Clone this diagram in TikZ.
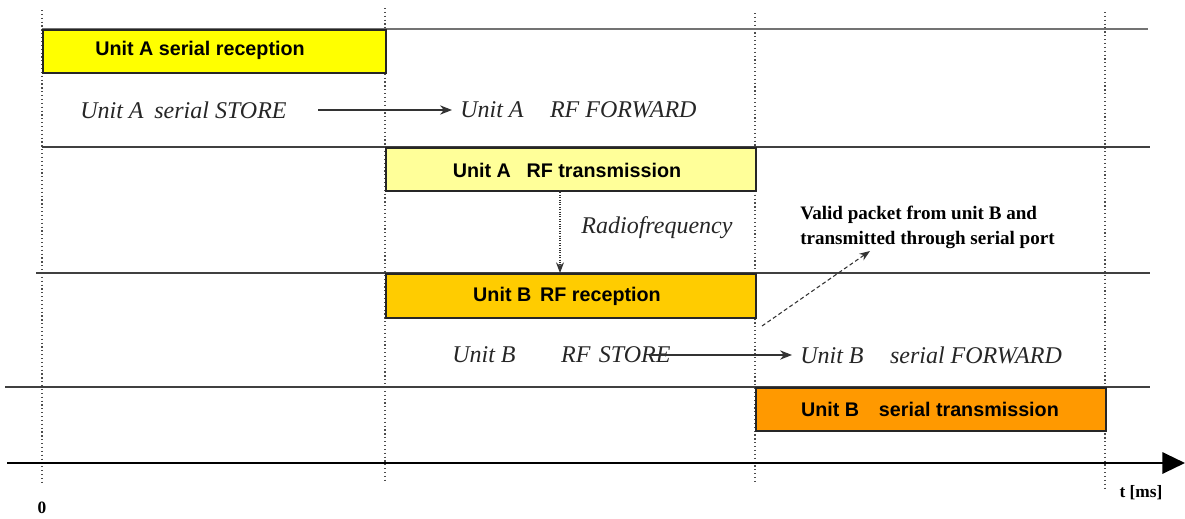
\documentclass[tikz,border=0pt]{standalone}
\usepackage{fontspec}
\setmainfont{Liberation Serif}
\newfontfamily\arialf{Liberation Sans}
\usetikzlibrary{arrows.meta}
\definecolor{cA}{HTML}{FFFF00}
\definecolor{cB}{HTML}{FFFF99}
\definecolor{cC}{HTML}{FFCC00}
\definecolor{cD}{HTML}{FF9900}
\tikzset{
  tbox/.style={draw=black!85, line width=1.3pt, inner sep=0pt},
  btext/.style={font=\arialf\bfseries\fontsize{14.8}{17}\selectfont, inner sep=0pt},
  itext/.style={font=\itshape\fontsize{18}{20}\selectfont, inner sep=0pt, text=black!85},
  ntext/.style={font=\bfseries\fontsize{14.3}{18.8}\selectfont, inner sep=0pt, align=left},
  grid/.style={draw=black!75, line width=1.2pt},
  vdot/.style={draw=black!70, line width=0.9pt, dotted},
  arr/.style={draw=black!80, line width=0.8pt, -{Stealth[length=9pt,width=7pt]}},
}
\begin{document}
\begin{tikzpicture}[x=0.75pt,y=-0.75pt]
\useasboundingbox (0,0) rectangle (1185,518);
% vertical dotted guides
\draw[vdot] (42,10) -- (42,485);
\draw[vdot] (385,8) -- (385,483);
\draw[vdot] (755,13) -- (755,483);
\draw[vdot] (1105,12) -- (1105,490);
% horizontal lines
\draw[draw=black!55, line width=1pt] (42,29) -- (1148,29);
\draw[grid] (42,147) -- (1150,147);
\draw[grid] (36,273) -- (1150,273);
\draw[grid] (5,387) -- (1150,387);
% boxes
\node[tbox, fill=cA, minimum width=343*0.75pt, minimum height=43*0.75pt, anchor=north west] (b1) at (42,29) {};
\node[btext, anchor=west] (t1) at (95,50) {Unit A serial reception};
\node[tbox, fill=cB, minimum width=370*0.75pt, minimum height=43*0.75pt, anchor=north west] (b2) at (385,147) {};
\node[btext] (t2) at (567,170) {Unit A\hspace{0.8em}RF transmission};
\node[tbox, fill=cC, minimum width=370*0.75pt, minimum height=44*0.75pt, anchor=north west] (b3) at (385,273) {};
\node[btext] (t3) at (567,296) {Unit B\hspace{0.45em}RF reception};
\node[tbox, fill=cD, minimum width=350*0.75pt, minimum height=43*0.75pt, anchor=north west] (b4) at (755,387) {};
\node[btext] (t4) at (930,409) {Unit B\hspace{1em}serial transmission};
% italic labels
\node[itext, anchor=west] (s1) at (80,110) {Unit A\hspace{0.45em}serial STORE};
\node[itext, anchor=west] (f1) at (460,110) {Unit A\hspace{1.1em}RF FORWARD};
\coordinate (a1s) at (318,110);
\draw[arr] (a1s) -- ([xshift=-6pt]f1.west);
\node[itext] (rf) at (657,228) {Radiofrequency};
\draw[draw=black!80, line width=0.8pt, densely dotted, -{Stealth[length=8pt,width=6pt]}] (560,190) -- (560,273);
\node[itext, anchor=west] (s2) at (452,355) {Unit B\hspace{1.9em}RF\hspace{0.35em}STORE};
\node[itext, anchor=west] (f2) at (800,355) {Unit B\hspace{1.1em}serial FORWARD};
\coordinate (a2s) at (650,355);
\draw[arr] (a2s) -- ([xshift=-6pt]f2.west);
\node[ntext, anchor=north west] (vp) at (800,206) {Valid packet from unit B and\\transmitted through serial port};
\coordinate (vs) at (762,326);
\coordinate (ve) at (870,251);
\draw[draw=black!80, line width=0.8pt, densely dashed, -{Stealth[length=8pt,width=6pt]}] (vs) -- (ve);
% time axis
\coordinate (ax0) at (7,463);
\coordinate (ax1) at (1185,463);
\draw[draw=black, line width=1.6pt, -{Triangle[length=17pt,width=16pt]}] (ax0) -- (ax1);
\node[font=\bfseries\fontsize{13}{15}\selectfont, inner sep=0pt] (tl) at (1141,493) {t [ms]};
\node[font=\bfseries\fontsize{13}{15}\selectfont, inner sep=0pt] (zero) at (42,508) {0};
\end{tikzpicture}
\end{document}
